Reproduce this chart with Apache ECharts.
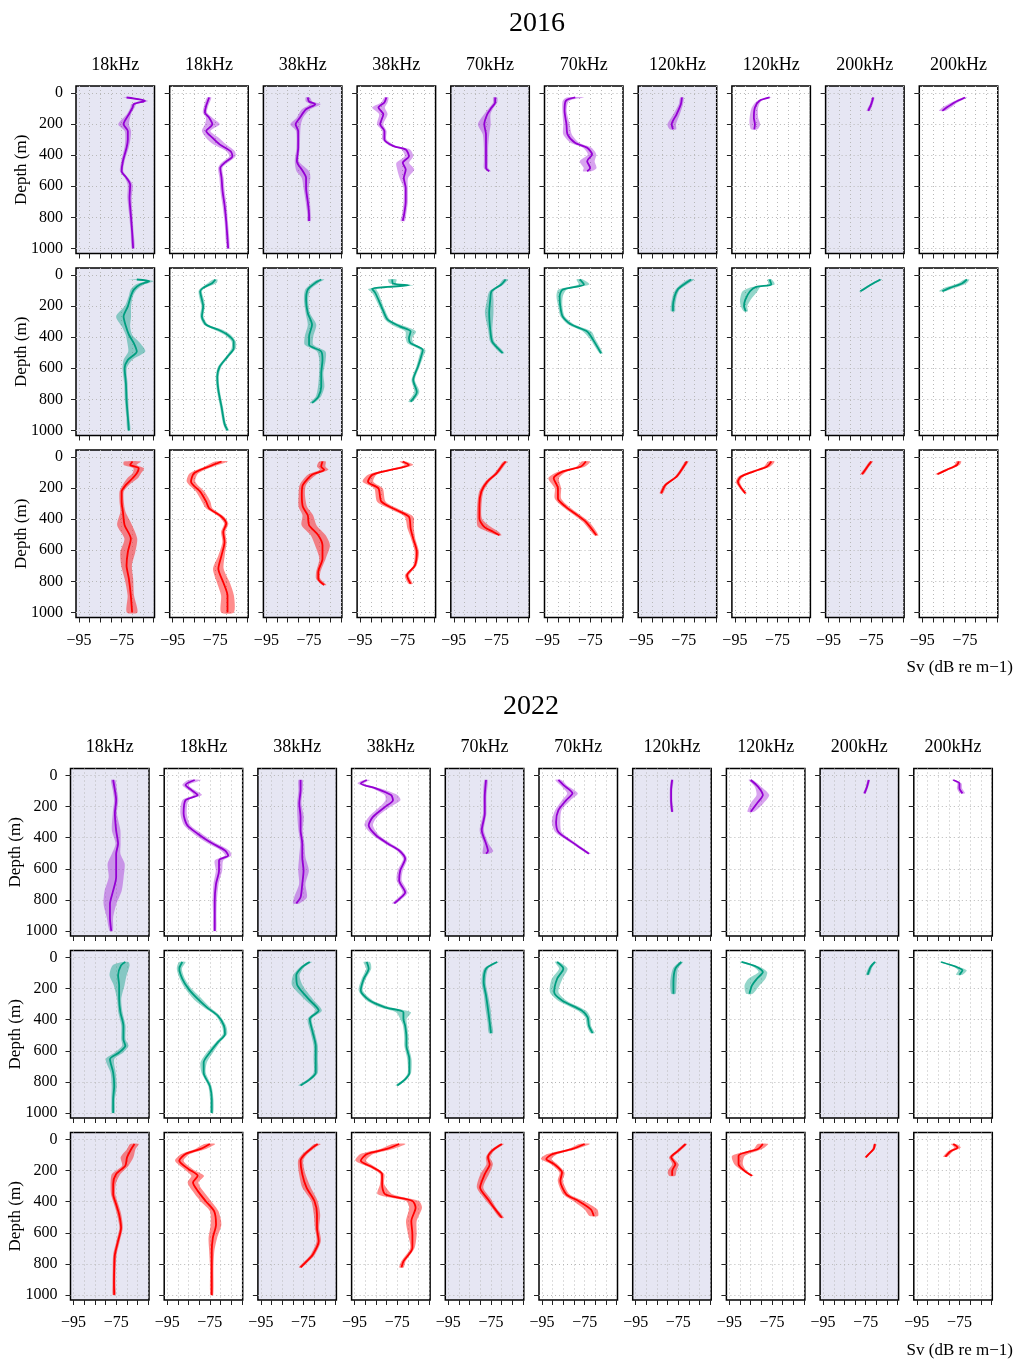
<!DOCTYPE html>
<html><head><meta charset="utf-8">
<script src="https://cdn.jsdelivr.net/npm/echarts@6/dist/echarts.min.js"></script>
<style>html,body{margin:0;padding:0;background:#fff}#c{width:1015px;height:1359px}</style>
</head><body><div id="c"></div>
<script>
// ---------- labels ----------
const YEARS = ['2016', '2022'];
const FREQS = ['18kHz','18kHz','38kHz','38kHz','70kHz','70kHz','120kHz','120kHz','200kHz','200kHz'];
const X_TICKS = [-95,-90,-85,-80,-75,-70,-65,-60];
const X_LABELS = [-95,-75];
const Y_TICKS = [0,200,400,600,800,1000];
const Y_NAME = 'Depth (m)';
const X_NAME = 'Sv (dB re m\u22121)';

// ---------- profiles: [depth (m), Sv (dB), band half-width (dB)] ----------
// 2016 purple
const P16_1 = [[28,-72.7,1.5],[50,-64.1,1.5],[71,-69.3,1.2],[93,-69.9,1],[136,-71.6,1],[201,-74.1,2.5],[244,-72.1,1.5],[298,-72.1,1.2],[352,-72.7,1],[438,-74.4,0.8],[503,-75,0.8],[546,-72.7,0.8],[590,-71,1.2],[676,-71.3,1],[784,-70.7,0.8],[892,-70.1,0.7],[1000,-69.6,0.7]];
const P16_2 = [[28,-77.9,1],[82,-79.3,1],[125,-79.9,1],[158,-77.9,1.5],[201,-76.4,3.5],[244,-79.3,2],[287,-76.4,3],[330,-73,3],[374,-67.9,2],[406,-67,1.5],[449,-70.7,1.5],[482,-72.7,1],[546,-72.1,1],[633,-71.6,1],[719,-70.7,1],[827,-69.9,0.8],[1000,-69,0.7]];
const P16_3 = [[28,-75.6,1],[54,-75,1.5],[71,-72.1,2.5],[104,-76.4,2],[158,-79.3,1.5],[201,-81.3,2.5],[244,-80.1,1],[352,-80.1,0.8],[438,-80.7,1],[503,-77.9,3],[546,-76.4,2],[611,-76.4,1.2],[698,-75.6,1],[784,-75,0.8],[823,-75,0.8]];
const P16_4 = [[28,-82.7,1],[60,-83.6,1.5],[93,-86.4,3],[136,-84.1,2],[201,-85.6,1.5],[244,-83.6,1],[298,-83.6,1],[341,-79.3,1.5],[363,-73.6,2],[406,-72.1,2],[449,-75,3],[492,-73.6,4],[546,-74.5,2],[611,-73.6,1],[698,-73.6,1],[784,-74.4,1],[823,-75,1]];
const P16_5 = [[28,-75.6,1],[60,-75.6,1],[93,-77.3,1],[136,-79.3,1.5],[201,-80.7,3],[266,-79.9,1.5],[352,-79.9,1],[438,-79.9,1],[482,-79.9,1],[503,-78.4,0.8]];
const P16_6 = [[28,-82,4],[50,-86.4,1.5],[114,-87,1],[201,-86.1,1.5],[266,-85.6,2],[320,-82.1,2],[352,-76.4,2],[395,-74.1,2],[438,-76.4,3.5],[482,-75,3],[503,-76.4,2]];
const P16_7 = [[28,-75.9,0.8],[71,-76.4,1],[136,-78.4,1.5],[201,-80.7,2],[233,-80.1,1.5]];
const P16_8 = [[28,-78.7,0.8],[50,-83.6,1],[93,-85.6,1.5],[158,-86.1,2],[201,-85.6,2.5],[233,-85.9,1.5]];
const P16_9 = [[28,-74.1,0.6],[71,-75,0.7],[114,-76.4,0.8]];
const P16_10 = [[28,-75,1],[60,-79.9,1.5],[93,-83.6,2],[114,-85.6,1.5]];
// 2016 green
const G16_1 = [[28,-67.9,4],[39,-62.1,2],[60,-66.4,2],[93,-69.3,1.5],[136,-70.7,1],[201,-72.1,1.5],[266,-74.1,3.5],[330,-73,2],[384,-71.6,1.5],[438,-69.3,3],[492,-67.9,4],[546,-72.1,2],[600,-73.6,1],[698,-73,0.8],[806,-72.7,0.8],[914,-72.1,0.7],[1000,-71.6,0.7]];
const G16_2 = [[28,-75,1],[50,-76.4,2],[82,-80.7,1],[104,-82.1,0.8],[158,-81.3,1],[201,-80.7,0.8],[266,-81.3,0.8],[320,-79.3,1],[352,-73.6,2],[384,-69.3,1.5],[428,-66.4,1],[471,-66.4,1],[525,-69.3,0.8],[590,-73,0.8],[654,-74.1,0.7],[741,-73.6,0.7],[849,-72.1,0.7],[957,-70.7,0.7],[1000,-69.3,0.7]];
const G16_3 = [[28,-69.3,1.5],[50,-72.1,1.5],[93,-75.6,1.2],[158,-76.4,1],[244,-75.6,1],[320,-73.6,2],[395,-75,2],[449,-75,2],[492,-69.3,2],[546,-68.7,1.5],[633,-69.3,1],[719,-69.3,1.5],[784,-70.7,1.2],[823,-73.6,1]];
const G16_4 = [[28,-79.9,2],[54,-79.6,1.5],[65,-72.1,2],[76,-82.1,2],[89,-89.3,2],[114,-87.9,1.5],[158,-86.4,1.2],[222,-84.4,1],[287,-82.1,1.2],[330,-76.4,2.5],[363,-71.3,2.5],[406,-72.1,1.5],[438,-71.3,1.5],[482,-65.6,1.2],[525,-66.4,1],[590,-67.9,0.8],[676,-70.1,0.8],[752,-68.4,1.2],[815,-71.3,1]];
const G16_5 = [[28,-70.7,1.2],[60,-72.7,1],[104,-77.3,1],[158,-77.9,1.5],[244,-78.4,2],[352,-77.9,1],[428,-77,1],[482,-73.6,1.2],[503,-72.1,0.8]];
const G16_6 = [[28,-79.9,1.5],[60,-77.9,2.5],[93,-87.9,2],[136,-89.3,1.5],[201,-89,1],[266,-87.9,1],[320,-83.6,1.5],[363,-76.4,2],[417,-73.6,1.2],[503,-69.9,0.8]];
const G16_7 = [[28,-71.6,1.5],[60,-75,1.5],[93,-77.9,1],[136,-79.3,1],[201,-80.1,1],[233,-80.1,1]];
const G16_8 = [[28,-78.7,1],[60,-77.9,1.5],[76,-85,2],[104,-87.9,3.5],[158,-90.1,2.5],[201,-90.7,1.5],[233,-89.9,1]];
const G16_9 = [[28,-70.7,0.8],[60,-75,0.8],[104,-80.1,0.7]];
const G16_10 = [[28,-74.1,1.2],[54,-76.4,2],[82,-82.1,2.5],[104,-85.6,1.5]];
// 2016 red
const R16_1 = [[28,-69.9,4],[50,-71,3],[71,-67,2.5],[104,-67.9,2],[136,-69.9,2.5],[179,-73,1.5],[222,-75,1],[287,-75,1],[352,-74.4,1.2],[438,-73.6,3.5],[525,-70.7,3],[611,-72.1,3.5],[698,-72.7,2.5],[784,-71.6,2],[892,-70.7,1.5],[1000,-70.1,2.5]];
const R16_2 = [[28,-72.1,3],[60,-77.9,2],[104,-85,2],[158,-86.4,2],[222,-82.1,2],[287,-79.3,2],[330,-77.9,1.5],[384,-72.1,1.2],[428,-69.9,1],[482,-71.3,1],[546,-70.7,1],[633,-72.1,1.5],[719,-73.6,2.5],[806,-71.3,3],[892,-69.3,3],[1000,-69.3,3]];
const R16_3 = [[28,-68.7,1.5],[60,-69.3,2],[82,-67.9,2],[114,-73.6,2],[179,-77.9,1.5],[244,-78.4,1.5],[320,-77.9,2],[374,-75.6,2.5],[438,-75,3.5],[503,-70.7,3.5],[568,-68.7,3.5],[654,-68.7,1.5],[741,-70.7,1],[784,-70.7,1],[823,-67.9,1]];
const R16_4 = [[28,-75,1.5],[50,-72.1,2],[82,-80.7,2],[114,-89.3,2],[158,-91.3,2.5],[201,-86.4,2],[287,-85,2],[341,-77.9,2],[384,-72.1,2],[460,-71.3,1.5],[525,-70.1,1],[611,-68.4,1],[698,-69.3,0.8],[762,-73,1],[816,-71.3,1]];
const R16_5 = [[28,-70.7,1],[50,-72.1,1],[104,-75,1],[158,-79.3,1],[222,-82.1,1],[309,-83,1],[395,-83,1.2],[449,-80.7,3],[482,-76.4,2.5],[503,-73.6,1]];
const R16_6 = [[28,-77,2],[60,-79.3,2],[93,-87.9,2],[136,-92.1,2.5],[201,-90.1,1.5],[266,-90.1,1.5],[320,-86.4,1.5],[363,-82.1,1.5],[417,-77,1.5],[503,-72.1,1]];
const R16_7 = [[28,-73.6,0.8],[71,-75.6,0.8],[125,-78.4,0.8],[179,-83.6,0.8],[233,-85.6,0.8]];
const R16_8 = [[28,-77.9,1.5],[60,-79.9,1.5],[93,-86.4,1.5],[125,-92.1,1.2],[158,-93.6,1],[190,-92.5,0.8],[233,-90.1,0.7]];
const R16_9 = [[28,-75,0.8],[71,-77.3,0.8],[110,-79.3,0.8]];
const R16_10 = [[28,-77.9,1.2],[50,-78.7,1.2],[82,-83.6,1.2],[110,-87.9,1]];
// 2022 purple
const P22_1 = [[28,-76.4,1],[93,-75.6,1],[158,-75,1],[244,-75.6,1],[352,-75,2],[438,-74.1,1.2],[503,-75,2],[568,-75,4],[654,-75,3.5],[741,-76.4,4],[827,-77.9,3],[914,-77.9,1.5],[1000,-77.3,0.8]];
const P22_2 = [[28,-82.1,3],[60,-86.4,1.5],[93,-83.6,1.5],[125,-80.7,2],[158,-86.4,1.5],[244,-87.3,1.5],[320,-85.6,1.5],[374,-80.7,2],[428,-75,2],[482,-67.9,2],[514,-66.4,1.5],[546,-70.7,2],[611,-70.7,1.5],[698,-72.1,1.2],[806,-72.7,1],[892,-72.7,0.8],[1000,-72.7,0.7]];
const P22_3 = [[28,-76.4,1],[93,-76.4,1],[179,-77,1],[266,-76.4,1.5],[352,-76.4,1],[438,-75.6,1],[525,-75.6,1.5],[611,-75,2.5],[698,-75.6,1.5],[784,-76.4,3],[823,-78.4,1.5]];
const P22_4 = [[28,-89.3,1.5],[50,-92.1,1.5],[82,-85,2],[125,-77.9,3],[158,-77,3.5],[201,-80.7,2.5],[266,-86.4,2],[320,-88.4,2],[384,-85,1.5],[438,-79.3,1.5],[482,-74.1,1.2],[536,-71.3,1],[611,-73.6,1.2],[676,-74.1,1.2],[752,-71.3,1.2],[795,-74.1,1.2],[823,-76.4,1]];
const P22_5 = [[28,-77.3,0.8],[136,-77.9,0.8],[244,-77.9,0.8],[352,-79.3,1],[438,-77.3,1.2],[486,-76.4,2.5],[503,-77.3,1.5]];
const P22_6 = [[28,-87.3,1.5],[60,-85,1.5],[114,-80.7,2.5],[158,-83.6,2],[222,-87.3,1.5],[298,-88.4,2],[363,-87.3,1.5],[417,-82.1,1.2],[471,-76.4,1],[503,-73,0.8]];
const P22_7 = [[28,-77.9,0.6],[93,-78.4,0.6],[158,-78.4,0.6],[233,-77.9,0.6]];
const P22_8 = [[28,-85,1],[71,-81.6,1.5],[125,-79.3,3],[179,-82.1,3],[233,-85,1.5]];
const P22_9 = [[28,-73.6,0.6],[71,-74.4,0.6],[114,-75.6,0.6]];
const P22_10 = [[28,-77.9,0.7],[50,-75,1],[82,-75,1.2],[114,-73.6,1.2]];
// 2022 green
const G22_1 = [[28,-70.7,1.5],[50,-72.7,4],[114,-74.1,4],[179,-73.6,2.5],[266,-73.6,1],[352,-73,1],[438,-71.6,1],[525,-71.6,1],[568,-70.7,1.5],[611,-73.6,2],[654,-77.9,2],[741,-76.4,1.2],[827,-75.9,1.2],[914,-76.4,0.8],[1000,-76.4,0.7]];
const G22_2 = [[28,-87.9,1.5],[71,-89.3,1.2],[136,-87.9,1.2],[201,-85,1.5],[266,-80.7,2],[320,-76.4,1.5],[374,-71.3,1],[438,-68.4,1],[492,-67.9,1],[546,-71.3,1],[611,-75,1.5],[676,-77.9,1.5],[741,-77.9,1],[827,-75,0.8],[914,-74.1,0.8],[1000,-74.1,0.7]];
const G22_3 = [[28,-72.1,1],[60,-75.6,1],[114,-78.4,1.5],[179,-77.9,2.5],[266,-72.7,2],[341,-67.9,1.5],[395,-72.1,1],[482,-70.7,1],[568,-69.3,1],[654,-69.3,1],[741,-69.3,1],[784,-72.1,1],[823,-76.4,1]];
const G22_4 = [[28,-89.3,1.5],[71,-88.4,1.2],[136,-90.7,1],[212,-92.1,1],[276,-87.9,1.5],[320,-80.7,2.5],[352,-72.1,3.5],[395,-72.1,1.5],[438,-71.3,1],[514,-70.7,1],[568,-70.7,1],[654,-69.3,1],[741,-69.3,0.8],[784,-71.3,0.8],[823,-75,0.8]];
const G22_5 = [[28,-72.1,0.8],[71,-77.3,1],[158,-78.4,1],[244,-77.3,1],[330,-76.4,1.2],[417,-75.6,1],[486,-75,1]];
const G22_6 = [[28,-87.9,1],[71,-85,2],[136,-87.9,2.5],[222,-89.3,2],[276,-85.6,2],[341,-76.4,2],[384,-73.6,1.2],[438,-73,1],[486,-71.3,1]];
const G22_7 = [[28,-73.6,0.8],[71,-76.4,1.2],[158,-77.3,1.5],[233,-77.3,1]];
const G22_8 = [[28,-89.3,0.8],[60,-82.1,1.5],[93,-79.3,2],[136,-82.1,4],[179,-84.4,3.5],[233,-85.6,1.5]];
const G22_9 = [[28,-70.7,0.6],[60,-72.7,0.8],[110,-74.1,0.8]];
const G22_10 = [[28,-83.6,0.8],[60,-76.4,1.2],[82,-73.6,2],[110,-75,1.5]];
// 2022 red
const R22_1 = [[28,-66.4,2],[60,-67.9,2],[114,-69.9,3],[168,-70.7,1.5],[222,-75,2],[287,-76.4,1.2],[352,-76.4,1],[417,-75,1],[482,-73.6,1],[568,-72.7,0.8],[654,-74.1,0.8],[741,-75.6,0.8],[827,-75.9,0.7],[935,-76,0.7],[1000,-75.9,0.7]];
const R22_2 = [[28,-75,2.5],[60,-79.3,2.5],[93,-86.4,2],[136,-89.3,2],[190,-85,2],[233,-80.7,3],[276,-82.9,2.5],[330,-80.7,2.5],[395,-77,2.5],[460,-73,2],[546,-72.1,2.5],[633,-73.6,2],[719,-74.1,1.2],[827,-74.1,0.8],[1000,-74.1,0.7]];
const R22_3 = [[28,-68.4,1.5],[50,-70.7,1.2],[93,-74.4,1.2],[136,-76.4,1.2],[222,-75.6,1.5],[309,-73.6,2],[395,-69.9,1.5],[482,-68.7,1.5],[568,-68.7,1],[654,-67.9,1],[741,-70.7,1],[784,-73.6,1],[823,-76.4,0.8]];
const R22_4 = [[28,-74.1,3],[60,-79.9,3],[93,-89.3,3],[136,-92.1,2.5],[179,-86.4,1.5],[222,-82.1,1],[287,-82.1,1],[352,-80.7,3.5],[395,-67.9,3],[438,-66.4,3],[525,-68.4,2.5],[611,-67.9,2],[698,-67.9,1],[784,-72.1,1],[823,-73,1]];
const R22_5 = [[28,-69.9,1],[71,-74.4,1],[114,-76.4,1],[158,-75.6,1.5],[222,-77.9,2],[309,-80.1,1.5],[384,-76.4,1.5],[438,-73.6,1],[503,-69.9,1]];
const R22_6 = [[28,-75,2.5],[60,-80.7,2],[93,-90.1,2.5],[125,-93,2.5],[158,-89.3,1.5],[212,-85.6,1.2],[266,-86.4,1.2],[352,-83.6,1.5],[395,-77.9,2.5],[449,-72.1,3],[492,-70.7,2]];
const R22_7 = [[28,-71.6,0.8],[71,-75,1],[114,-78.4,1],[158,-76.4,1.5],[201,-77.9,2],[233,-77.9,1.5]];
const R22_8 = [[28,-79.3,2.5],[60,-81.6,2],[104,-90.7,3],[158,-90.7,2],[201,-87.9,1],[233,-84.4,0.7]];
const R22_9 = [[28,-70.7,0.6],[60,-71.3,0.6],[93,-73.6,0.6],[114,-75,0.6]];
const R22_10 = [[28,-77.9,1.2],[50,-75.9,1.5],[76,-79.3,1.2],[110,-81.6,1]];

const BLOCKS = [
  [[P16_1,P16_2,P16_3,P16_4,P16_5,P16_6,P16_7,P16_8,P16_9,P16_10],
   [G16_1,G16_2,G16_3,G16_4,G16_5,G16_6,G16_7,G16_8,G16_9,G16_10],
   [R16_1,R16_2,R16_3,R16_4,R16_5,R16_6,R16_7,R16_8,R16_9,R16_10]],
  [[P22_1,P22_2,P22_3,P22_4,P22_5,P22_6,P22_7,P22_8,P22_9,P22_10],
   [G22_1,G22_2,G22_3,G22_4,G22_5,G22_6,G22_7,G22_8,G22_9,G22_10],
   [R22_1,R22_2,R22_3,R22_4,R22_5,R22_6,R22_7,R22_8,R22_9,R22_10]]
];

// ---------- styling / layout ----------
const FONT = '"Liberation Serif", "Times New Roman", serif';
const LINE_COLORS = ['#9400D3', '#009E80', '#FF0000'];
const BAND_COLORS = ['rgba(148,0,211,0.36)', 'rgba(0,158,128,0.42)', 'rgba(255,0,0,0.45)'];
const LAVENDER = '#E6E6F3';
const BLOCK_X = [76, 70.5];
const BLOCK_Y = [86, 768.5];
const TITLE_X = [537, 531];
const TITLE_Y = [24, 707];
const PITCH_X = 93.7, PITCH_Y = 182, PW = 78.5, PH = 167.5;

const grids = [], xAxes = [], yAxes = [], series = [], graphics = [];

function bandRenderer(prof, fill) {
  return function (params, api) {
    const l = prof.map(p => api.coord([p[1] - p[2], p[0]]));
    const r = prof.map(p => api.coord([p[1] + p[2], p[0]])).reverse();
    return { type: 'polygon', silent: true,
      shape: { points: l.concat(r), smooth: 0.25 },
      style: { fill: fill, stroke: null } };
  };
}

let gi = 0;
for (let b = 0; b < 2; b++) {
  graphics.push({ type: 'text', x: TITLE_X[b], y: TITLE_Y[b], silent: true,
    style: { text: YEARS[b], font: '28px ' + FONT, fill: '#000', align: 'center', verticalAlign: 'middle' } });
  graphics.push({ type: 'text', x: 1013, y: BLOCK_Y[b] + 2 * PITCH_Y + PH + 50.5, silent: true,
    style: { text: X_NAME, font: '17px ' + FONT, fill: '#000', align: 'right', verticalAlign: 'middle' } });
  for (let c = 0; c < 10; c++) {
    graphics.push({ type: 'text', x: BLOCK_X[b] + PITCH_X * c + PW / 2, y: BLOCK_Y[b] - 21, silent: true,
      style: { text: FREQS[c], font: '18px ' + FONT, fill: '#000', align: 'center', verticalAlign: 'middle' } });
  }
  for (let r = 0; r < 3; r++) {
    for (let c = 0; c < 10; c++) {
      const left = BLOCK_X[b] + PITCH_X * c;
      const top = BLOCK_Y[b] + PITCH_Y * r;
      grids.push({ left: left, top: top, width: PW, height: PH, show: true,
        backgroundColor: c % 2 === 0 ? LAVENDER : '#ffffff',
        borderColor: '#000', borderWidth: 1.5, containLabel: false, outerBoundsMode: 'none' });
      xAxes.push({ gridIndex: gi, type: 'value', min: -96.4, max: -59.6, position: 'bottom',
        axisLine: { show: false, onZero: false },
        axisTick: { show: true, customValues: X_TICKS, length: 5, lineStyle: { color: '#222', width: 1 } },
        axisLabel: { show: r === 2, customValues: X_LABELS, margin: 15,
          formatter: v => '\u2212' + Math.abs(v),
          fontFamily: FONT, fontSize: 16, color: '#000' },
        splitLine: { show: true, lineStyle: { type: [1, 3], color: '#b8b8b8', width: 1 } } });
      yAxes.push({ gridIndex: gi, type: 'value', inverse: true, min: -46, max: 1033, position: 'left',
        axisLine: { show: false, onZero: false },
        axisTick: { show: true, customValues: Y_TICKS, length: 5, lineStyle: { color: '#222', width: 1 } },
        axisLabel: { show: c === 0, customValues: Y_TICKS, margin: 13,
          formatter: v => String(v),
          fontFamily: FONT, fontSize: 16, color: '#000' },
        splitLine: { show: true, lineStyle: { type: [1, 3], color: '#b8b8b8', width: 1 } },
        name: c === 0 ? Y_NAME : '', nameLocation: 'middle', nameGap: 46, nameMoveOverlap: false,
        nameTextStyle: { fontFamily: FONT, fontSize: 17, color: '#000' } });
      const prof = BLOCKS[b][r][c];
      series.push({ type: 'custom', xAxisIndex: gi, yAxisIndex: gi, data: [[0, 0]], silent: true, z: 2,
        renderItem: bandRenderer(prof, BAND_COLORS[r]) });
      series.push({ type: 'line', xAxisIndex: gi, yAxisIndex: gi, silent: true, z: 3,
        data: prof.map(p => [p[1], p[0]]), symbol: 'none', showSymbol: false, smooth: 0.25,
        lineStyle: { color: LINE_COLORS[r], width: 1.8 } });
      gi++;
    }
  }
}

const chart = echarts.init(document.getElementById('c'), null, { renderer: 'canvas' });
chart.setOption({
  animation: false,
  backgroundColor: '#ffffff',
  grid: grids, xAxis: xAxes, yAxis: yAxes, series: series,
  graphic: { elements: graphics }
});
</script></body></html>
